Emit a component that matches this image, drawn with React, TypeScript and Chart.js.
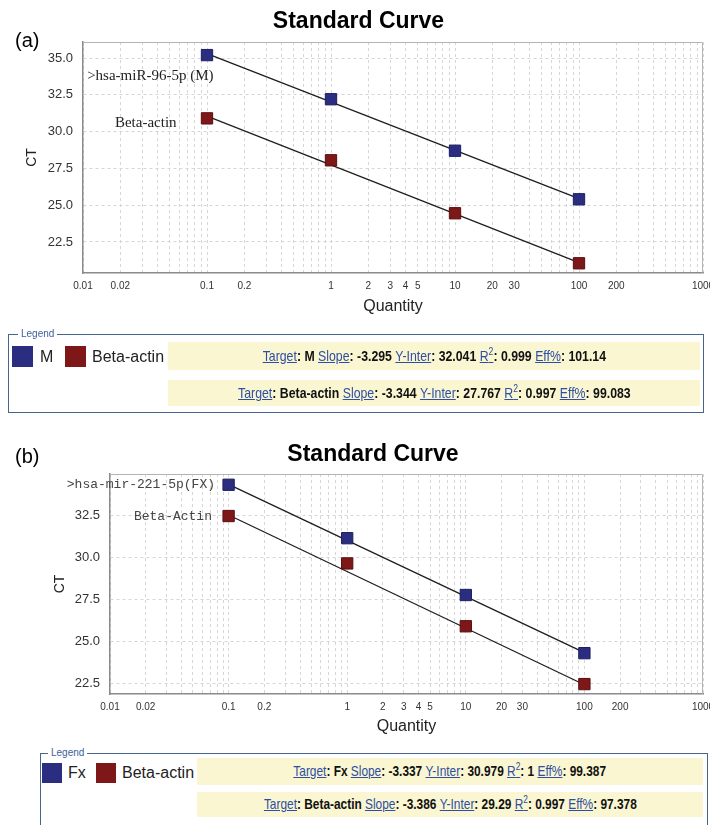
import React, { useEffect, useRef } from "react";
import { Chart, registerables } from "chart.js";

Chart.register(...registerables);
Chart.defaults.font.family = '"Liberation Sans", Arial, sans-serif';
Chart.defaults.color = "#333";

// ---------- data ----------
const quantities = [0.1, 1, 10, 100];
const fitQuantities = [0.1, 100];

// panel (a)
const ctM = [35.2, 32.2, 28.7, 25.4];
const ctBetaA = [30.9, 28.05, 24.45, 21.05];
const fitM = [35.3, 25.45];
const fitBetaA = [31.05, 21.1];

// panel (b)
const ctFx = [34.3, 31.12, 27.74, 24.28];
const ctBetaB = [32.44, 29.62, 25.88, 22.44];
const fitFx = [34.32, 24.31];
const fitBetaB = [32.5, 22.4];

// tick labels
const xLabelTicks = [0.01, 0.02, 0.1, 0.2, 1, 2, 3, 4, 5, 10, 20, 30, 100, 200, 1000];
const yTicksA = [22.5, 25, 27.5, 30, 32.5, 35];
const yTicksB = [22.5, 25, 27.5, 30, 32.5];

// legend statistics
const targetsA = ["M", "Beta-actin"];
const slopesA = ["-3.295", "-3.344"];
const intersA = ["32.041", "27.767"];
const r2A = ["0.999", "0.997"];
const effA = ["101.14", "99.083"];

const targetsB = ["Fx", "Beta-actin"];
const slopesB = ["-3.337", "-3.386"];
const intersB = ["30.979", "29.29"];
const r2B = ["1", "0.997"];
const effB = ["99.387", "97.378"];

// ---------- styling ----------
const BLUE = "#2b2e80";
const BLUE_EDGE = "#1c1f5e";
const RED = "#7e1818";
const RED_EDGE = "#5a0e0e";
const GRID = "#d6d6d6";

const gridTicks: number[] = [];
for (let e = -2; e <= 2; e++) {
  for (let m = 1; m <= 9; m++) gridTicks.push(Number((m * Math.pow(10, e)).toPrecision(3)));
}
gridTicks.push(1000);

const isLabelTick = (v: number) => xLabelTicks.some((t) => Math.abs(t - v) / t < 1e-6);

const labelPlugin = {
  id: "curveLabels",
  afterDatasetsDraw(chart: any, _args: any, opts: any) {
    const { ctx, scales } = chart;
    const x = scales.x;
    const y = scales.y;
    ctx.save();
    for (const it of opts.items || []) {
      ctx.font = it.font;
      ctx.fillStyle = it.color;
      ctx.textAlign = it.align;
      ctx.textBaseline = "middle";
      ctx.fillText(it.text, x.getPixelForValue(it.x), y.getPixelForValue(it.y));
    }
    ctx.restore();
  },
};

const framePlugin = {
  id: "frame",
  beforeDatasetsDraw(chart: any) {
    const { ctx, chartArea: a } = chart;
    ctx.save();
    ctx.strokeStyle = "#b4b4b4";
    ctx.lineWidth = 1;
    ctx.beginPath();
    ctx.moveTo(a.left, a.top + 0.5);
    ctx.lineTo(a.right - 0.5, a.top + 0.5);
    ctx.lineTo(a.right - 0.5, a.bottom);
    ctx.stroke();
    ctx.restore();
  },
};

type PanelOpts = {
  blue: number[];
  red: number[];
  fitBlue: number[];
  fitRed: number[];
  yMin: number;
  yMax: number;
  yTicks: number[];
  padLeft: number;
  yWidth: number;
  yTitlePad: number;
  titleTop: number;
  titleBottom: number;
  qtyPad: number;
  labels: any[];
};

function makeConfig(p: PanelOpts): any {
  const pts = (xs: number[], ys: number[]) => xs.map((q, i) => ({ x: q, y: ys[i] }));
  return {
    type: "scatter",
    data: {
      datasets: [
        {
          data: pts(fitQuantities, p.fitBlue),
          showLine: true,
          borderColor: "#1e1e1e",
          borderWidth: 1.3,
          pointRadius: 0,
          order: 2,
        },
        {
          data: pts(fitQuantities, p.fitRed),
          showLine: true,
          borderColor: "#1e1e1e",
          borderWidth: 1.3,
          pointRadius: 0,
          order: 2,
        },
        {
          data: pts(quantities, p.blue),
          pointStyle: "rect",
          pointRadius: 8,
          backgroundColor: BLUE,
          borderColor: BLUE_EDGE,
          borderWidth: 1,
          order: 0,
        },
        {
          data: pts(quantities, p.red),
          pointStyle: "rect",
          pointRadius: 8,
          backgroundColor: RED,
          borderColor: RED_EDGE,
          borderWidth: 1,
          order: 0,
        },
      ],
    },
    options: {
      responsive: false,
      animation: false,
      layout: { padding: { left: p.padLeft, right: 27, top: 0, bottom: 0 } },
      plugins: {
        legend: { display: false },
        tooltip: { enabled: false },
        title: {
          display: true,
          text: "Standard Curve",
          color: "#000",
          font: { size: 23, weight: "bold" },
          padding: { top: p.titleTop, bottom: p.titleBottom },
        },
        curveLabels: { items: p.labels },
      },
      scales: {
        x: {
          type: "logarithmic",
          min: 0.01,
          max: 1000,
          afterBuildTicks: (s: any) => {
            s.ticks = gridTicks.map((v) => ({ value: v }));
          },
          afterFit: (s: any) => {
            s.height = 50;
          },
          ticks: {
            autoSkip: false,
            maxRotation: 0,
            minRotation: 0,
            padding: 7,
            color: "#333",
            font: { size: 10 },
            callback: (v: any) => (isLabelTick(Number(v)) ? String(Number(v)) : ""),
          },
          grid: { color: GRID, drawTicks: false },
          border: { color: "#8a8a8a", width: 1.5, dash: [3, 3] },
          title: {
            display: true,
            text: "Quantity",
            color: "#222",
            font: { size: 16 },
            padding: { top: 0, bottom: p.qtyPad },
          },
        },
        y: {
          min: p.yMin,
          max: p.yMax,
          afterBuildTicks: (s: any) => {
            s.ticks = p.yTicks.map((v) => ({ value: v }));
          },
          afterFit: (s: any) => {
            s.width = p.yWidth;
          },
          ticks: {
            padding: 10,
            color: "#333",
            font: { size: 13 },
            callback: (v: any) => Number(v).toFixed(1),
          },
          grid: { color: GRID, drawTicks: false },
          border: { color: "#8a8a8a", width: 1.5, dash: [3, 3] },
          title: {
            display: true,
            text: "CT",
            color: "#222",
            font: { size: 14 },
            padding: { top: p.yTitlePad, bottom: 0 },
          },
        },
      },
    },
    plugins: [framePlugin, labelPlugin],
  };
}

function Panel({ opts, top, height }: { opts: PanelOpts; top: number; height: number }) {
  const ref = useRef<HTMLCanvasElement | null>(null);
  useEffect(() => {
    if (!ref.current) return;
    const chart = new Chart(ref.current, makeConfig(opts));
    return () => chart.destroy();
  }, []);
  return (
    <canvas
      ref={ref}
      width={730}
      height={height}
      style={{ position: "absolute", left: 0, top, width: 730, height }}
    />
  );
}

const linkStyle: React.CSSProperties = { color: "#2d4ea3", textDecoration: "underline" };
const valStyle: React.CSSProperties = { color: "#111", fontWeight: "bold" };

function StatRow(props: {
  left: number;
  top: number;
  width: number;
  height: number;
  fontSize: number;
  target: string;
  slope: string;
  inter: string;
  r2: string;
  eff: string;
}) {
  const { left, top, width, height, fontSize } = props;
  return (
    <div
      style={{
        position: "absolute",
        left,
        top,
        width,
        height,
        background: "#faf6d2",
        textAlign: "center",
        lineHeight: height + "px",
        fontSize,
        fontFamily: '"Liberation Sans", Arial, sans-serif',
        whiteSpace: "nowrap",
      }}
    >
      <span style={{ display: "inline-block", transform: "scaleX(0.82)", transformOrigin: "center" }}>
        <span style={linkStyle}>Target</span>
        <span style={valStyle}>: {props.target} </span>
        <span style={linkStyle}>Slope</span>
        <span style={valStyle}>: {props.slope} </span>
        <span style={linkStyle}>Y-Inter</span>
        <span style={valStyle}>: {props.inter} </span>
        <span style={linkStyle}>
          R<span style={{ fontSize: "0.7em", position: "relative", top: "-0.6em" }}>2</span>
        </span>
        <span style={valStyle}>: {props.r2} </span>
        <span style={linkStyle}>Eff%</span>
        <span style={valStyle}>: {props.eff}</span>
      </span>
    </div>
  );
}

function LegendBox(props: {
  left: number;
  top: number;
  right: number;
  bottom: number;
  labelLeft: number;
  sw: number;
  swTop: number;
  blueLeft: number;
  blueText: string;
  blueTextLeft: number;
  redLeft: number;
  redTextLeft: number;
  rowLeft: number;
  rowRight: number;
  row1Top: number;
  row1H: number;
  row2Top: number;
  row2H: number;
  fontSize: number;
  targets: string[];
  slopes: string[];
  inters: string[];
  r2: string[];
  eff: string[];
}) {
  const p = props;
  const textStyle: React.CSSProperties = {
    position: "absolute",
    top: p.swTop,
    height: p.sw,
    lineHeight: p.sw + "px",
    fontSize: 16,
    color: "#222",
    fontFamily: '"Liberation Sans", Arial, sans-serif',
    whiteSpace: "nowrap",
  };
  return (
    <>
      <div
        style={{
          position: "absolute",
          left: p.left,
          top: p.top,
          width: p.right - p.left,
          height: p.bottom - p.top,
          border: "1.5px solid #46668c",
          boxSizing: "border-box",
        }}
      />
      <div
        style={{
          position: "absolute",
          left: p.labelLeft - 3,
          top: p.top - 7,
          padding: "0 3px",
          background: "#fff",
          fontSize: 10,
          lineHeight: "14px",
          color: "#3d5e9c",
          fontFamily: '"Liberation Sans", Arial, sans-serif',
        }}
      >
        Legend
      </div>
      <div style={{ position: "absolute", left: p.blueLeft, top: p.swTop, width: p.sw, height: p.sw, background: BLUE }} />
      <div style={{ ...textStyle, left: p.blueTextLeft }}>{p.blueText}</div>
      <div style={{ position: "absolute", left: p.redLeft, top: p.swTop, width: p.sw, height: p.sw, background: RED }} />
      <div style={{ ...textStyle, left: p.redTextLeft }}>Beta-actin</div>
      <StatRow
        left={p.rowLeft}
        top={p.row1Top}
        width={p.rowRight - p.rowLeft}
        height={p.row1H}
        fontSize={p.fontSize}
        target={p.targets[0]}
        slope={p.slopes[0]}
        inter={p.inters[0]}
        r2={p.r2[0]}
        eff={p.eff[0]}
      />
      <StatRow
        left={p.rowLeft}
        top={p.row2Top}
        width={p.rowRight - p.rowLeft}
        height={p.row2H}
        fontSize={p.fontSize}
        target={p.targets[1]}
        slope={p.slopes[1]}
        inter={p.inters[1]}
        r2={p.r2[1]}
        eff={p.eff[1]}
      />
    </>
  );
}

const panelA: PanelOpts = {
  blue: ctM,
  red: ctBetaA,
  fitBlue: fitM,
  fitRed: fitBetaA,
  yMin: 20.39,
  yMax: 36.09,
  yTicks: yTicksA,
  padLeft: 14,
  yWidth: 69,
  yTitlePad: 9.6,
  titleTop: 8,
  titleBottom: 6.4,
  qtyPad: 6.4,
  labels: [
    { text: ">hsa-miR-96-5p (M)", x: 0.0108, y: 33.78, align: "left", font: '15px "Liberation Serif", serif', color: "#222" },
    { text: "Beta-actin", x: 0.0181, y: 30.61, align: "left", font: '15px "Liberation Serif", serif', color: "#222" },
  ],
};

const panelB: PanelOpts = {
  blue: ctFx,
  red: ctBetaB,
  fitBlue: fitFx,
  fitRed: fitBetaB,
  yMin: 21.85,
  yMax: 34.94,
  yTicks: yTicksB,
  padLeft: 43,
  yWidth: 67,
  yTitlePad: 8.6,
  titleTop: 21,
  titleBottom: 5.4,
  qtyPad: 7.4,
  labels: [
    { text: ">hsa-mir-221-5p(FX)", x: 0.0768, y: 34.29, align: "right", font: '13px "Liberation Mono", monospace', color: "#444" },
    { text: "Beta-Actin", x: 0.0724, y: 32.38, align: "right", font: '13px "Liberation Mono", monospace', color: "#444" },
  ],
};

export default function App() {
  const tagStyle: React.CSSProperties = {
    position: "absolute",
    left: 15,
    fontSize: 20,
    lineHeight: "20px",
    color: "#000",
    fontFamily: '"Liberation Sans", Arial, sans-serif',
  };
  return (
    <div
      style={{
        position: "absolute",
        left: 0,
        top: 0,
        width: 710,
        height: 825,
        overflow: "hidden",
        background: "#fff",
      }}
    >
      <Panel opts={panelA} top={0} height={323} />
      <Panel opts={panelB} top={420} height={324} />
      <div style={{ ...tagStyle, top: 30 }}>(a)</div>
      <div style={{ ...tagStyle, top: 446 }}>(b)</div>
      <LegendBox
        left={8}
        top={334}
        right={704}
        bottom={413}
        labelLeft={21}
        sw={21}
        swTop={346}
        blueLeft={12}
        blueText="M"
        blueTextLeft={40}
        redLeft={65}
        redTextLeft={92}
        rowLeft={168}
        rowRight={700}
        row1Top={342}
        row1H={28}
        row2Top={380}
        row2H={26}
        fontSize={15}
        targets={targetsA}
        slopes={slopesA}
        inters={intersA}
        r2={r2A}
        eff={effA}
      />
      <LegendBox
        left={40}
        top={753}
        right={708}
        bottom={840}
        labelLeft={51}
        sw={20}
        swTop={763}
        blueLeft={42}
        blueText="Fx"
        blueTextLeft={68}
        redLeft={96}
        redTextLeft={122}
        rowLeft={197}
        rowRight={703}
        row1Top={758}
        row1H={27}
        row2Top={792}
        row2H={25}
        fontSize={14.5}
        targets={targetsB}
        slopes={slopesB}
        inters={intersB}
        r2={r2B}
        eff={effB}
      />
    </div>
  );
}
